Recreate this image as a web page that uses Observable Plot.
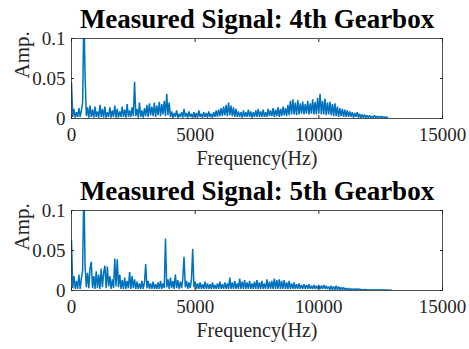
<!DOCTYPE html>
<html>
<head>
<meta charset="utf-8">
<script src="https://cdn.jsdelivr.net/npm/d3@7"></script>
<script src="https://cdn.jsdelivr.net/npm/@observablehq/plot@0.6"></script>
<style>
  body { margin: 0; background: #fff; }
  #chart { position: relative; width: 469px; height: 349px; overflow: hidden; }
  #chart svg { position: absolute; left: 0; }
</style>
</head>
<body>
<div id="chart"></div>
<script>
// Spectrum bins are 50 Hz wide; amplitudes are stored in units of 1e-3.
const binHz = 50;

const gear4Amp = [
  45,2,12,1,8,2,13,2,10,20,
  130,52,3,14,1,16,2,11,1,15,
  2,9,1,17,2,12,1,15,1,8,
  2,14,1,10,2,16,1,12,1,9,
  2,15,2,11,1,18,2,10,2,14,
  3,46,3,12,1,20,2,10,1,13,
  3,17,2,19,4,15,3,20,2,16,
  4,21,3,18,5,22,3,31,4,20,
  2,9,1,7,2,10,1,6,2,8,
  1,12,2,7,1,9,2,6,1,8,
  2,7,1,10,2,6,1,8,2,7,
  1,9,2,6,1,8,2,10,2,11,
  3,13,3,15,4,17,3,20,4,16,
  3,14,2,12,2,9,2,8,1,10,
  2,8,2,11,2,9,1,8,2,10,
  2,12,2,9,2,11,2,8,2,12,
  3,10,3,13,2,11,3,14,2,12,
  3,15,4,13,3,17,4,22,5,24,
  5,20,4,23,5,19,6,21,5,18,
  6,22,5,19,6,24,5,21,5,26,
  6,31,5,22,5,25,4,20,5,21,
  4,18,3,19,3,15,2,13,3,12,
  2,11,2,10,2,9,2,8,1,7,
  2,8,1,6,1,5,1,5,1,4,
  1,4,1,3,1,4,1,3,1,3,
  1,3,1,2,1,2,0
];

const gear5Amp = [
  63,3,18,2,12,2,20,2,15,25,
  130,30,4,22,3,28,36,3,18,2,
  24,3,20,2,27,4,22,31,3,30,
  5,18,2,14,3,40,5,39,4,20,
  2,13,2,16,2,12,3,23,2,18,
  3,14,2,11,2,9,2,12,2,10,
  33,3,12,2,9,2,11,2,8,2,
  10,2,12,2,9,3,65,4,14,2,
  16,3,12,2,20,3,13,2,11,3,
  15,42,4,12,2,10,3,13,52,4,
  11,2,9,2,10,2,8,2,11,2,
  9,2,8,2,10,2,7,2,9,2,
  11,2,8,2,10,2,9,2,16,2,
  10,2,12,2,9,2,15,2,11,2,
  13,2,10,2,12,2,9,2,11,2,
  13,2,10,2,12,2,9,2,14,2,
  11,2,12,2,15,2,13,2,14,2,
  12,2,13,2,10,2,12,2,9,2,
  10,2,8,2,9,2,7,2,8,2,
  7,2,8,2,6,2,7,2,6,2,
  7,2,6,2,7,2,6,2,5,1,
  6,1,5,1,6,1,5,1,4,1,
  4,1,3,1,3,1,2,1,2,1,
  2,1,2,1,1.5,0.5,1.5,0.5,1.5,0.5,
  1,0.5,1,0.5,1,0.5,1,0.5,1,0.5,
  1,0.5,1,0.5,0.8,0.4,0.8,0.4,0.6,0
];

const xTicks = [0, 5000, 10000, 15000];
const yTicks = [0, 0.05, 0.1];
const titles = ["Measured Signal: 4th Gearbox", "Measured Signal: 5th Gearbox"];
const xLabel = "Frequency(Hz)";
const yLabel = "Amp.";

const serif = "'Liberation Serif', 'Times New Roman', Times, serif";
const ink = "#262626";

function spectrumPanel(title, amps, top, height, marginTop, marginBottom) {
  const rows = amps.map((a, i) => ({freq: i * binHz, amp: a / 1000}));
  const svg = Plot.plot({
    width: 469,
    height,
    marginLeft: 71,
    marginRight: 27,
    marginTop,
    marginBottom,
    style: {fontFamily: serif, color: ink, background: "transparent", overflow: "visible"},
    x: {domain: [0, 15000]},
    y: {domain: [0, 0.1]},
    marks: [
      Plot.line(rows, {x: "freq", y: "amp", stroke: "#0072BD", strokeWidth: 1.5, strokeLinejoin: "miter", clip: true}),
      Plot.frame({stroke: ink, strokeWidth: 0.8}),
      // inward tick marks on all four sides
      Plot.axisX(xTicks, {anchor: "bottom", tickSize: -3, tickFormat: () => "", label: null, stroke: ink}),
      Plot.axisX(xTicks, {anchor: "top", tickSize: -3, tickFormat: () => "", label: null, stroke: ink}),
      Plot.axisY(yTicks, {anchor: "left", tickSize: -3, tickFormat: () => "", label: null, stroke: ink}),
      Plot.axisY(yTicks, {anchor: "right", tickSize: -3, tickFormat: () => "", label: null, stroke: ink}),
      // tick labels
      Plot.axisX(xTicks, {anchor: "bottom", tickSize: 0, tickPadding: 9, fontSize: 19, tickFormat: d => String(d), label: null, fill: ink}),
      Plot.axisY(yTicks, {anchor: "left", tickSize: 0, tickPadding: 6, fontSize: 19, tickFormat: d => String(d), label: null, fill: ink}),
      // title and axis labels
      Plot.text([title], {frameAnchor: "top", dy: -11, lineAnchor: "bottom", fontSize: 27, fontWeight: "bold", fill: "#000"}),
      Plot.text([xLabel], {frameAnchor: "bottom", dy: 46, lineAnchor: "bottom", fontSize: 20, fill: ink}),
      Plot.text([yLabel], {frameAnchor: "left", dx: -49, rotate: -90, lineAnchor: "middle", fontSize: 21, fill: ink})
    ]
  });
  svg.style.top = top + "px";
  return svg;
}

const chart = document.getElementById("chart");
chart.appendChild(spectrumPanel(titles[0], gear4Amp, 0, 175, 38, 57));
chart.appendChild(spectrumPanel(titles[1], gear5Amp, 175, 174, 35, 59));
</script>
</body>
</html>
